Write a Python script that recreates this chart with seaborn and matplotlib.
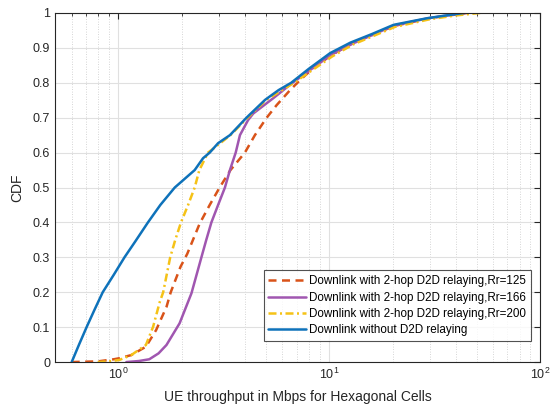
import numpy as np
import pandas as pd
import matplotlib
matplotlib.use("Agg")
import matplotlib.pyplot as plt
import seaborn as sns
from matplotlib.ticker import LogLocator, NullFormatter

# CDF curves (throughput in Mbps, CDF value)
blue_x = [0.6, 0.65, 0.706, 0.77, 0.842, 0.95, 1.068, 1.2, 1.38, 1.58, 1.85, 2.30, 2.52,
          2.71, 2.97, 3.38, 4.05, 4.96, 5.75, 6.6, 8.0, 10.1, 12.6, 16.0, 20.2, 29.2, 36.0, 43.6]
blue_y = [0.0, 0.05, 0.1, 0.15, 0.2, 0.25, 0.3, 0.345, 0.4, 0.45, 0.5, 0.55, 0.584,
          0.6, 0.627, 0.65, 0.7, 0.751, 0.779, 0.8, 0.84, 0.885, 0.915, 0.94, 0.966, 0.985, 0.993, 1.0]

red_x = [0.6, 0.8, 0.95, 1.01, 1.15, 1.35, 1.51, 1.57, 1.69, 1.77, 1.97, 2.12, 2.43, 2.71,
         3.02, 3.4, 3.98, 4.44, 5.05, 5.63, 6.52, 7.28, 8.5, 10.3, 13.0, 20.4, 30.0, 45.0]
red_y = [0.0, 0.002, 0.008, 0.011, 0.02, 0.044, 0.092, 0.115, 0.158, 0.2, 0.273, 0.31, 0.397, 0.45,
         0.5, 0.55, 0.6, 0.65, 0.7, 0.736, 0.779, 0.808, 0.845, 0.88, 0.915, 0.963, 0.985, 1.0]

purple_x = [1.09, 1.25, 1.4, 1.55, 1.69, 1.95, 2.22, 2.48, 2.61, 2.76, 2.97, 3.2, 3.38, 3.6,
            3.77, 4.12, 4.36, 5.43, 6.7, 10.2, 13.0, 20.3, 29.5, 44.0]
purple_y = [0.0, 0.003, 0.008, 0.025, 0.049, 0.111, 0.197, 0.302, 0.35, 0.4, 0.45, 0.5, 0.55, 0.6,
            0.65, 0.693, 0.712, 0.756, 0.8, 0.88, 0.913, 0.964, 0.985, 1.0]

yellow_x = [0.797, 0.9, 1.01, 1.15, 1.35, 1.46, 1.57, 1.63, 1.76, 1.86, 1.98, 2.14, 2.3, 2.42,
            2.66, 2.8, 3.4, 4.1, 5.0, 6.8, 10.3, 13.0, 20.5, 30.0, 40.0, 52.0]
yellow_y = [0.0, 0.002, 0.006, 0.02, 0.049, 0.101, 0.172, 0.2, 0.3, 0.35, 0.4, 0.45, 0.5, 0.55,
            0.6, 0.61, 0.65, 0.7, 0.75, 0.8, 0.875, 0.91, 0.96, 0.982, 0.993, 1.0]

labels = ["Downlink with 2-hop D2D relaying,Rr=125",
          "Downlink with 2-hop D2D relaying,Rr=166",
          "Downlink with 2-hop D2D relaying,Rr=200",
          "Downlink without D2D relaying"]

sns.set_style("white")
plt.rcParams['font.family'] = ['Liberation Sans', 'DejaVu Sans']
plt.rcParams['mathtext.fontset'] = 'custom'
plt.rcParams['mathtext.rm'] = 'Liberation Sans'

fig = plt.figure(figsize=(5.54, 4.05), dpi=100)
ax = fig.add_axes([0.0993, 0.106, 0.8754, 0.862])

axcol = "#262626"
series = [(red_x, red_y, "#D95319", (0, (3.2, 2.2))),
          (purple_x, purple_y, "#A056B0", "-"),
          (yellow_x, yellow_y, "#F5C217", (0, (3.2, 1.4, 0.8, 1.4))),
          (blue_x, blue_y, "#0E72BA", "-")]

for (xs, ys, col, ls), lab in zip(series, labels):
    sns.lineplot(x=xs, y=ys, ax=ax, sort=False, estimator=None, color=col,
                 linestyle=ls, linewidth=1.8, label=lab)

ax.set_xscale("log")
ax.set_xlim(0.5, 100)
ax.set_ylim(0, 1)
ax.set_yticks(np.arange(0, 1.01, 0.1))
ax.set_yticklabels(["0", "0.1", "0.2", "0.3", "0.4", "0.5", "0.6", "0.7", "0.8", "0.9", "1"])
ax.xaxis.set_major_locator(LogLocator(base=10, numticks=5))
ax.xaxis.set_minor_locator(LogLocator(base=10, subs=np.arange(2, 10), numticks=20))
ax.xaxis.set_minor_formatter(NullFormatter())

ax.grid(True, which="major", color="#e0e0e0", linewidth=0.8)
ax.grid(True, which="minor", axis="x", color="#c8c8c8", linestyle=(0, (1, 2)), linewidth=0.6)
ax.set_axisbelow(True)

ax.tick_params(which="both", direction="in", top=True, right=True, colors=axcol,
               labelsize=9, labelcolor=axcol)
ax.tick_params(which="major", length=4, width=0.8)
ax.tick_params(which="minor", length=2, width=0.6)
for sp in ax.spines.values():
    sp.set_color(axcol)
    sp.set_linewidth(0.8)

ax.set_xlabel("UE throughput in Mbps for Hexagonal Cells", fontsize=10, color=axcol, labelpad=6)
ax.set_ylabel("CDF", fontsize=10, color=axcol, labelpad=6)

leg = ax.legend(loc="lower right", bbox_to_anchor=(0.981, 0.06), borderaxespad=0,
                fontsize=8.4, frameon=True, fancybox=False, edgecolor=axcol,
                handlelength=3.2, handletextpad=0.3, labelspacing=0.38, borderpad=0.4)
leg.get_frame().set_linewidth(0.8)
for t in leg.get_texts():
    t.set_color("black")

fig.savefig("out.png", dpi=100)
